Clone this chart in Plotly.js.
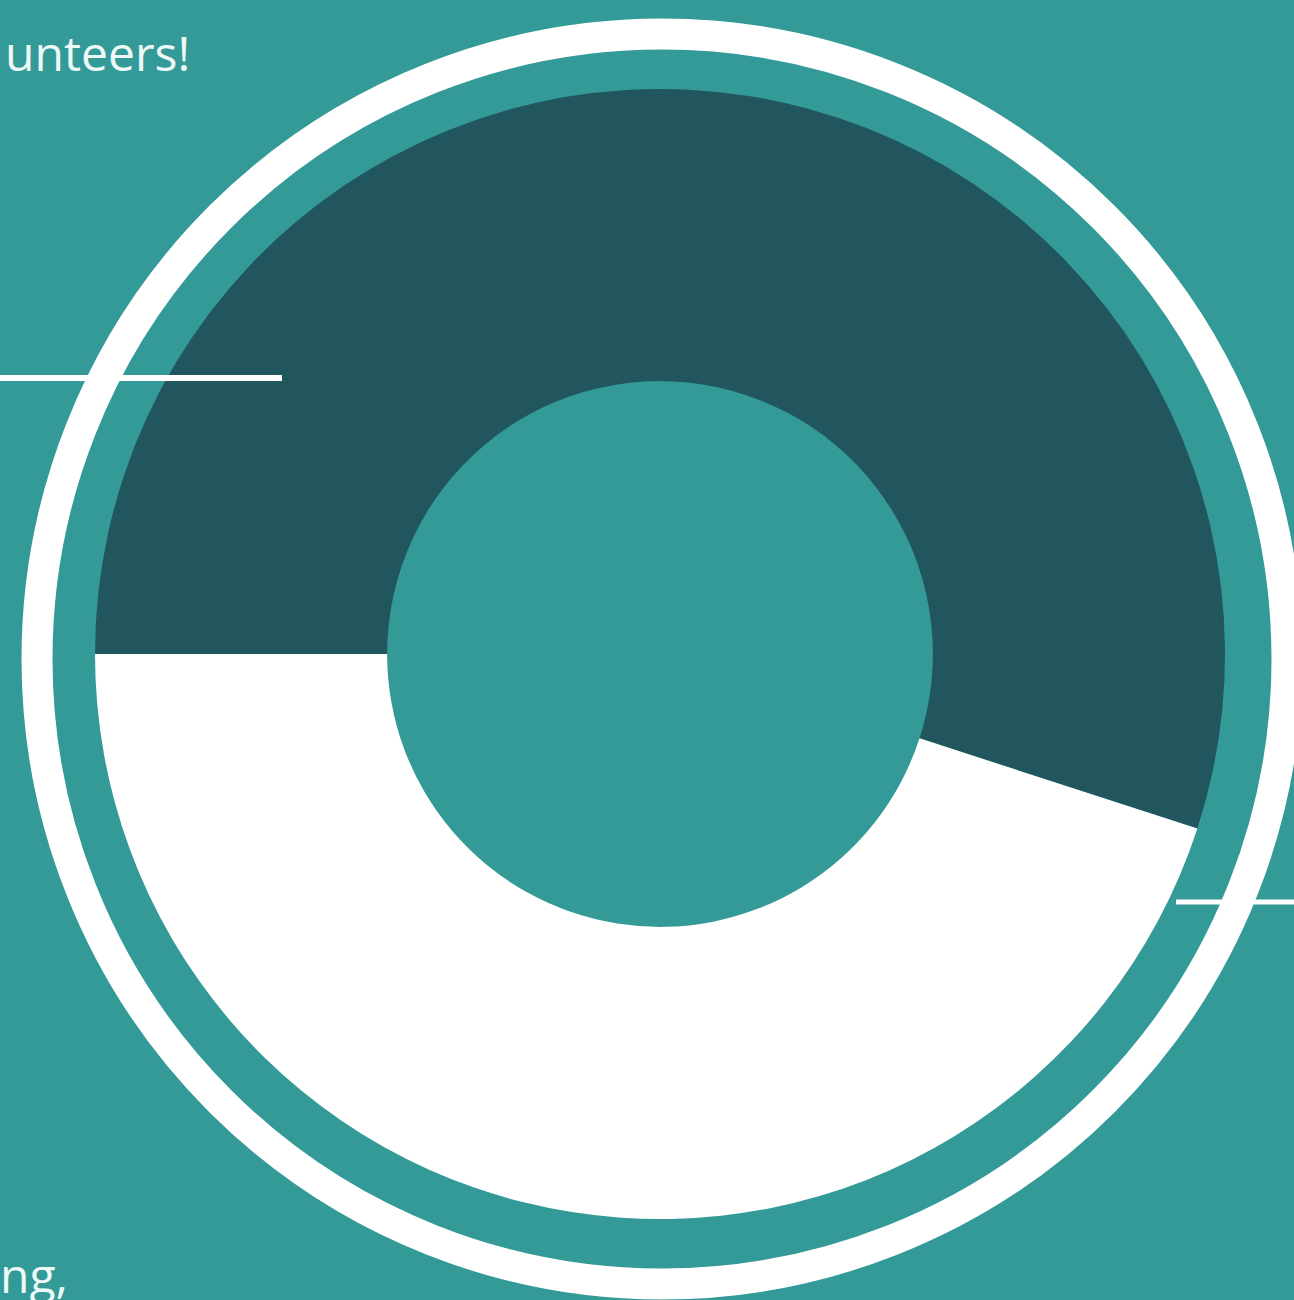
<!DOCTYPE html>
<html>
<head>
<meta charset="utf-8">
<script src="https://cdn.plot.ly/plotly-3.0.1.min.js"></script>
<style>
  html, body { margin: 0; padding: 0; background: #339a98; }
  #chart { width: 1294px; height: 1300px; }
</style>
</head>
<body>
<div id="chart"></div>
<script>
// Data
const sliceLabels = ['Segment A', 'Segment B'];
const sliceValues = [55, 45];
const sliceColors = ['#21565e', '#ffffff'];
const textTop = 'unteers!';
const textBottom = 'ng,';

const W = 1294, H = 1300;
const px = v => v / W;
const py = v => 1 - v / H;   // from top in pixels -> paper y

const bg = '#339a98';

const trace = {
  type: 'pie',
  labels: sliceLabels,
  values: sliceValues,
  marker: { colors: sliceColors, line: { width: 0 } },
  hole: 0.483,
  sort: false,
  direction: 'clockwise',
  rotation: 270,
  textinfo: 'none',
  hoverinfo: 'skip',
  showlegend: false,
  domain: { x: [px(95), px(1225)], y: [py(1219), py(89)] }
};

const layout = {
  width: W,
  height: H,
  margin: { l: 0, r: 0, t: 0, b: 0 },
  paper_bgcolor: bg,
  plot_bgcolor: bg,
  showlegend: false,
  shapes: [
    { type: 'circle', xref: 'paper', yref: 'paper', layer: 'below',
      x0: px(662 - 625), x1: px(662 + 625), y0: py(659 + 625), y1: py(659 - 625),
      line: { color: '#ffffff', width: 31 }, fillcolor: 'rgba(0,0,0,0)' },
    { type: 'line', xref: 'paper', yref: 'paper', layer: 'above',
      x0: px(-5), x1: px(282), y0: py(378), y1: py(378),
      line: { color: '#ffffff', width: 6 } },
    { type: 'line', xref: 'paper', yref: 'paper', layer: 'above',
      x0: px(1176), x1: px(1300), y0: py(902), y1: py(902),
      line: { color: '#ffffff', width: 5 } }
  ],
  annotations: [
    { text: textTop, xref: 'paper', yref: 'paper', x: px(192), y: py(52),
      xanchor: 'right', yanchor: 'middle', showarrow: false,
      font: { family: 'Open Sans, sans-serif', size: 48, color: '#eef9f8' } },
    { text: textBottom, xref: 'paper', yref: 'paper', x: px(70), y: py(1274),
      xanchor: 'right', yanchor: 'middle', showarrow: false,
      font: { family: 'Open Sans, sans-serif', size: 48, color: '#eef9f8' } }
  ]
};

Plotly.newPlot('chart', [trace], layout, { displayModeBar: false, staticPlot: true });
</script>
</body>
</html>
